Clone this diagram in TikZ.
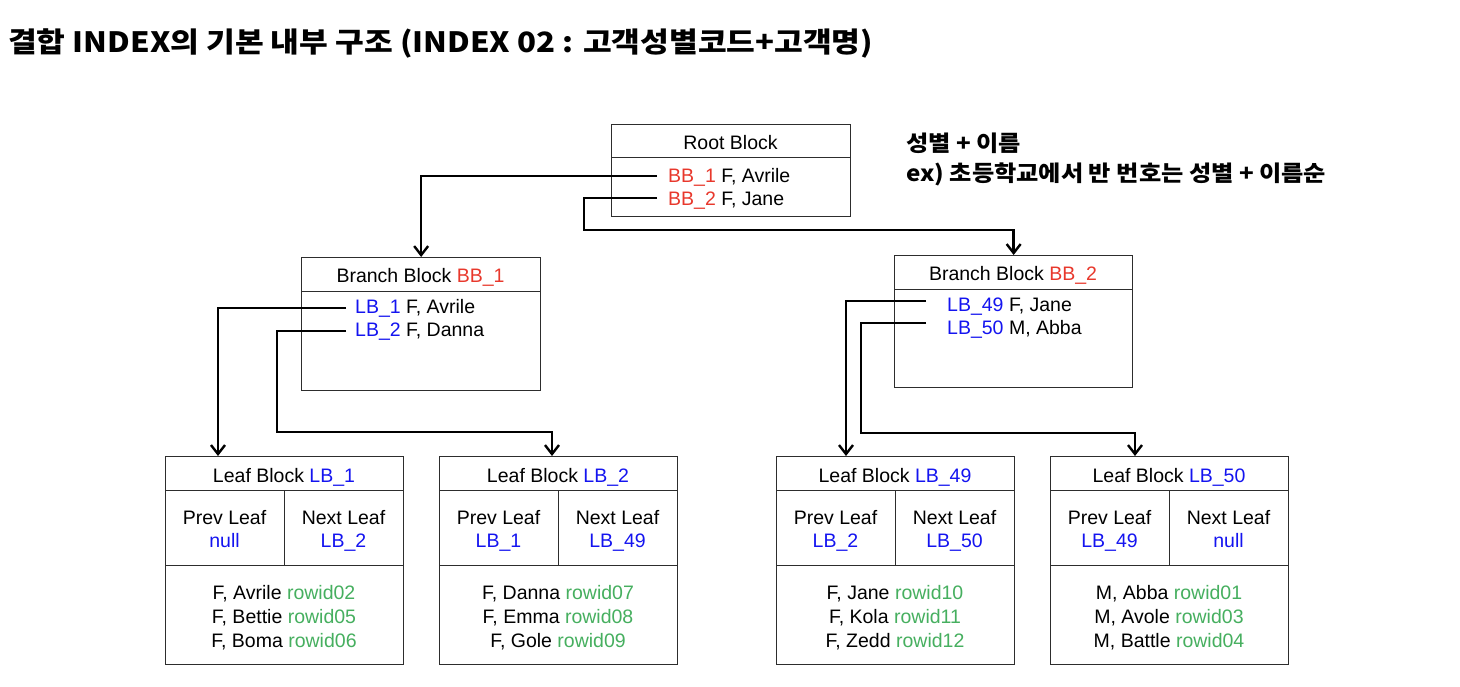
\documentclass[tikz,border=0pt]{standalone}
\usepackage{fontspec}
\usepackage{graphicx}
\setmainfont{Liberation Sans}
\newfontfamily\krfont{Noto Sans CJK KR}
\usetikzlibrary{arrows.meta,calc}
\definecolor{rd}{RGB}{232,56,44}
\definecolor{bl}{RGB}{20,20,240}
\definecolor{gr}{RGB}{70,175,95}
\definecolor{bd}{RGB}{45,45,45}
\tikzset{
 cell/.style={draw=bd, line width=1.3pt, rectangle, inner sep=0pt, anchor=north west},
 txt/.style={anchor=base, inner sep=0pt, font=\fontsize{19.5}{23}\selectfont},
 rowtxt/.style={anchor=base west, inner sep=0pt, font=\fontsize{19.5}{23}\selectfont},
 link/.style={line width=2.4pt, -{Straight Barb[length=9pt,width=14pt]}},
}
\newcommand{\leafblk}[8]{%
 \node[cell, minimum width=238pt, minimum height=34pt] (#1h) at (#2,456) {};
 \node[txt] (#1ht) at (#2+119,482) {Leaf Block \textcolor{bl}{#3}};
 \node[cell, minimum width=119pt, minimum height=75pt] (#1p) at (#2,490) {};
 \node[cell, minimum width=119pt, minimum height=75pt] (#1n) at (#2+119,490) {};
 \node[txt] (#1pa) at (#2+59.5,524) {Prev Leaf};
 \node[txt] (#1pb) at (#2+59.5,547) {\textcolor{bl}{#4}};
 \node[txt] (#1na) at (#2+178.5,524) {Next Leaf};
 \node[txt] (#1nb) at (#2+178.5,547) {\textcolor{bl}{#5}};
 \node[cell, minimum width=238pt, minimum height=99pt] (#1b) at (#2,565) {};
 \node[txt] (#1ra) at (#2+119,599) {#6};
 \node[txt] (#1rb) at (#2+119,623) {#7};
 \node[txt] (#1rc) at (#2+119,647) {#8};
}
\begin{document}
\begin{tikzpicture}[x=1pt,y=-1pt]
\fill[white] (0,0) rectangle (1460,686);
\useasboundingbox (0,0) rectangle (1460,686);

\node[anchor=base west, inner sep=0pt, font=\krfont\bfseries\fontsize{28}{32}\selectfont] (title) at (8,52) {\scalebox{1.115}[1]{결합 INDEX의 기본 내부 구조 (INDEX 02 : 고객성별코드+고객명)}};

\node[anchor=base west, inner sep=0pt, font=\krfont\bfseries\fontsize{22}{30}\selectfont] (notea) at (906,151) {\scalebox{1.1}[1]{성별 + 이름}};
\node[anchor=base west, inner sep=0pt, font=\krfont\bfseries\fontsize{22}{30}\selectfont] (noteb) at (906,181) {\scalebox{1.1}[1]{ex) 초등학교에서 반 번호는 성별 + 이름순}};

% Root block
\node[cell, minimum width=239pt, minimum height=33pt] (rooth) at (611,124) {};
\node[txt] (rootht) at (730.5,149) {Root Block};
\node[cell, minimum width=239pt, minimum height=59pt] (rootb) at (611,157) {};
\node[rowtxt] (r1) at (668,182) {\textcolor{rd}{BB\_1} F, Avrile};
\node[rowtxt] (r2) at (668,205) {\textcolor{rd}{BB\_2} F, Jane};

% Branch BB_1
\node[cell, minimum width=239pt, minimum height=34pt] (bb1h) at (301,257) {};
\node[txt] (bb1ht) at (420.5,282) {Branch Block \textcolor{rd}{BB\_1}};
\node[cell, minimum width=239pt, minimum height=99pt] (bb1b) at (301,291) {};
\node[rowtxt] (l1) at (355,313) {\textcolor{bl}{LB\_1} F, Avrile};
\node[rowtxt] (l2) at (355,336) {\textcolor{bl}{LB\_2} F, Danna};

% Branch BB_2
\node[cell, minimum width=238pt, minimum height=34pt] (bb2h) at (894,255) {};
\node[txt] (bb2ht) at (1013,280) {Branch Block \textcolor{rd}{BB\_2}};
\node[cell, minimum width=238pt, minimum height=98pt] (bb2b) at (894,289) {};
\node[rowtxt] (m1) at (947,311) {\textcolor{bl}{LB\_49} F, Jane};
\node[rowtxt] (m2) at (947,334) {\textcolor{bl}{LB\_50} M, Abba};

% Leaf blocks
\leafblk{lfa}{165}{LB\_1}{null}{LB\_2}{F, Avrile \textcolor{gr}{rowid02}}{F, Bettie \textcolor{gr}{rowid05}}{F, Boma \textcolor{gr}{rowid06}}
\leafblk{lfb}{439}{LB\_2}{LB\_1}{LB\_49}{F, Danna \textcolor{gr}{rowid07}}{F, Emma \textcolor{gr}{rowid08}}{F, Gole \textcolor{gr}{rowid09}}
\leafblk{lfc}{776}{LB\_49}{LB\_2}{LB\_50}{F, Jane \textcolor{gr}{rowid10}}{F, Kola \textcolor{gr}{rowid11}}{F, Zedd \textcolor{gr}{rowid12}}
\leafblk{lfd}{1050}{LB\_50}{LB\_49}{null}{M, Abba \textcolor{gr}{rowid01}}{M, Avole \textcolor{gr}{rowid03}}{M, Battle \textcolor{gr}{rowid04}}

% Connectors
\draw[link] ([xshift=-11pt,yshift=6pt]r1.base west) -| (bb1h.north);
\draw[link] ([xshift=-11pt,yshift=7pt]r2.base west) -| (584,230) -| (bb2h.north);
\draw[link] ([xshift=-9pt,yshift=5pt]l1.base west) -| ([xshift=53pt]lfah.north west);
\draw[link] ([xshift=-9pt,yshift=5pt]l2.base west) -| (277,432) -| ([xshift=113pt]lfbh.north west);
\draw[link] ([xshift=-21pt,yshift=10pt]m1.base west) -| ([xshift=70pt]lfch.north west);
\draw[link] ([xshift=-21pt,yshift=11pt]m2.base west) -| (861,433) -| ([xshift=85pt]lfdh.north west);
\end{tikzpicture}
\end{document}
